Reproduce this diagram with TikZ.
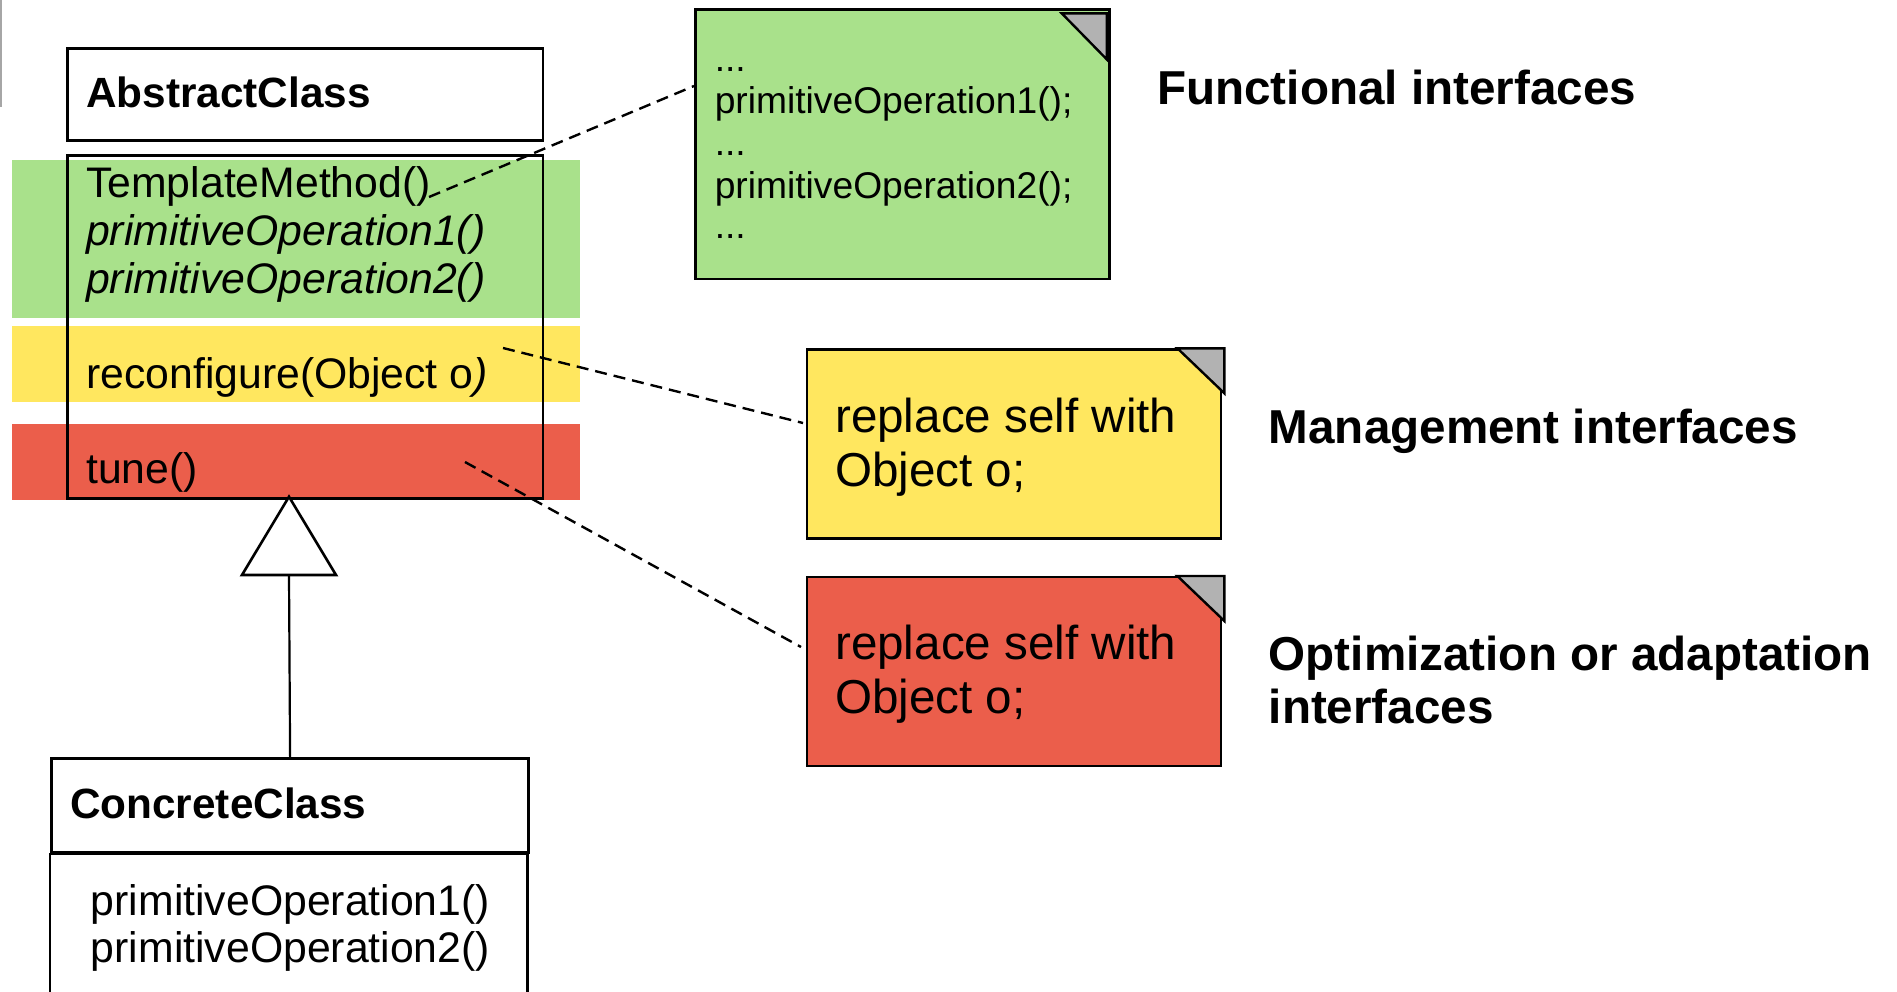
\documentclass[tikz,border=0pt]{standalone}
\usepackage{fontspec}
\setmainfont{Liberation Sans}
\definecolor{bandgreen}{HTML}{A9E18B}
\definecolor{bandyellow}{HTML}{FFE75F}
\definecolor{bandred}{HTML}{EB5E4B}
\definecolor{foldgray}{HTML}{B2B2B2}
\begin{document}
\begin{tikzpicture}[x=1pt,y=-1pt,
  boxline/.style={draw=black, line width=2.8pt},
  classbox/.style={boxline, rectangle, inner sep=0pt, anchor=north west, fill=none},
  notebox/.style={draw=black, line width=2.4pt, rectangle, inner sep=0pt, anchor=north west},
  fold/.style={fill=foldgray, draw=black, line width=2.4pt, line join=miter},
  conn/.style={draw=black, line width=2.4pt, dash pattern=on 12pt off 7pt},
  ctxt/.style={anchor=base west, inner sep=0pt, font=\fontsize{42.75}{48}\selectfont},
  ctitle/.style={anchor=base west, inner sep=0pt, font=\fontsize{42.3}{48}\selectfont\bfseries},
  gtxt/.style={anchor=base west, inner sep=0pt, font=\fontsize{37.2}{42}\selectfont},
  ntxt/.style={anchor=base west, inner sep=0pt, font=\fontsize{47.6}{54}\selectfont},
  lbl/.style={anchor=base west, inner sep=0pt, font=\fontsize{47.6}{53}\selectfont\bfseries}]
\useasboundingbox (0,0) rectangle (1897,991);
\fill[white] (0,0) rectangle (1897,991);
\draw[gray!70, line width=1.5pt] (0.8,0) -- (0.8,107);

% colour bands
\fill[bandgreen] (12,160) rectangle (580,318);
\fill[bandyellow] (12,326) rectangle (580,402);
\fill[bandred] (12,424) rectangle (580,500);

% abstract class
\node[classbox, minimum width=475.7pt, minimum height=92.6pt] (abstract) at (65.8,46.7) {};
\node[classbox, minimum width=475.7pt, minimum height=342.7pt] (ops) at (65.8,154) {};
\node[ctitle] (abstractname) at (86,107) {AbstractClass};
\node[ctxt] (tm) at (86,197) {TemplateMethod()};
\node[ctxt] (po1) at (86,245) {\itshape primitiveOperation1()};
\node[ctxt] (po2) at (86,293) {\itshape primitiveOperation2()};
\node[ctxt] (reconf) at (86,388) {reconfigure(Object o{\itshape )}};
\node[ctxt] (tune) at (86,483) {tune()};

% generalization
\coordinate (apex) at (289,496.7);
\coordinate (tbl) at (242,575);
\coordinate (tbr) at (336,575);
\coordinate (tbm) at (289,575);
\filldraw[fill=white, draw=black, line width=2.6pt, line join=miter] (apex) -- (tbr) -- (tbl) -- cycle;

% concrete class
\node[classbox, minimum width=477.4pt, minimum height=93.7pt] (concrete) at (50,757) {};
\coordinate (cbl) at (50,1000);
\coordinate (cbr) at (527.4,1000);
\coordinate (ctl) at (50,854);
\coordinate (ctr) at (527.4,854);
\draw[boxline] (cbl) -- (ctl) -- (ctr) -- (cbr);
\draw[black, line width=2.2pt] (tbm) -- (concrete.north);
\node[ctitle] (concretename) at (70,818) {ConcreteClass};
\node[ctxt] (cpo1) at (90.7,915) {primitiveOperation1()};
\node[ctxt] (cpo2) at (90.7,962) {primitiveOperation2()};

% connectors
\coordinate (tmend) at (429,197);
\coordinate (gnin) at (694,86);
\coordinate (rcend) at (503,348);
\coordinate (ynin) at (803,423);
\coordinate (tuend) at (465,462);
\coordinate (rnin) at (801,647);
\draw[conn] (tmend) -- (gnin);
\draw[conn] (rcend) -- (ynin);
\draw[conn] (tuend) -- (rnin);

% notes
\node[notebox, fill=bandgreen, minimum width=414pt, minimum height=269.5pt] (gnote) at (694.3,8.3) {};
\filldraw[fold] ([xshift=-49pt,yshift=-5pt]gnote.north east) -- ([xshift=-4pt,yshift=-5pt]gnote.north east) -- ([xshift=-4pt,yshift=-51pt]gnote.north east) -- cycle;
\node[gtxt] (g1) at (714.6,71) {...};
\node[gtxt] (g2) at (714.6,113) {primitiveOperation1();};
\node[gtxt] (g3) at (714.6,155) {...};
\node[gtxt] (g4) at (714.6,198) {primitiveOperation2();};
\node[gtxt] (g5) at (714.6,238) {...};

\node[notebox, fill=bandyellow, minimum width=414pt, minimum height=189pt] (ynote) at (806,348.3) {};
\filldraw[fold] ([xshift=-45pt]ynote.north east) -- ([xshift=2pt]ynote.north east) -- ([xshift=2pt,yshift=-45pt]ynote.north east) -- cycle;
\node[ntxt] (y1) at (835,432) {replace self with};
\node[ntxt] (y2) at (835,486) {Object o;};

\node[notebox, fill=bandred, minimum width=414pt, minimum height=189pt] (rnote) at (806,576) {};
\filldraw[fold] ([xshift=-45pt]rnote.north east) -- ([xshift=2pt]rnote.north east) -- ([xshift=2pt,yshift=-45pt]rnote.north east) -- cycle;
\node[ntxt] (r1) at (835,659) {replace self with};
\node[ntxt] (r2) at (835,713) {Object o;};

% labels
\node[lbl] (lfun) at (1157,104) {Functional interfaces};
\node[lbl] (lman) at (1268.6,443) {Management interfaces};
\node[lbl] (lopt1) at (1268.6,670) {Optimization or adaptation};
\node[lbl] (lopt2) at (1268.6,723) {interfaces};
\end{tikzpicture}
\end{document}
